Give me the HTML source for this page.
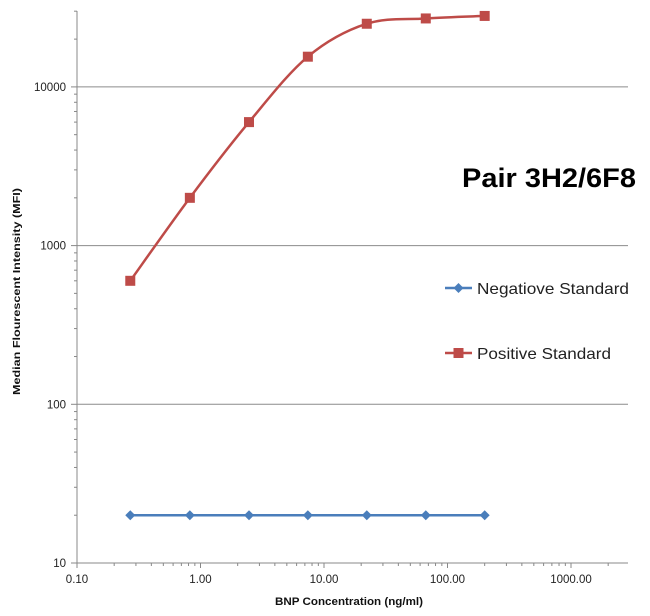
<!DOCTYPE html>
<html><head><meta charset="utf-8"><style>
body{margin:0;background:#fff;}
svg text{font-family:"Liberation Sans",sans-serif;}
</style></head><body>
<svg id="chart" width="650" height="611" xmlns="http://www.w3.org/2000/svg">
<g id="grid"></g>
<g id="axes"></g>
<g id="series"></g>
<text x="462" y="187" font-size="27" font-weight="bold" fill="#000" textLength="174" lengthAdjust="spacingAndGlyphs">Pair 3H2/6F8</text>
<g>
<line x1="445" y1="288" x2="472" y2="288" stroke="#4a7ebb" stroke-width="2.5"/>
<path d="M458.5 283 L463.5 288 L458.5 293 L453.5 288Z" fill="#4a7ebb"/>
<text x="477" y="294" font-size="16" fill="#222" textLength="152" lengthAdjust="spacingAndGlyphs">Negatiove Standard</text>
</g>
<g>
<line x1="445" y1="353" x2="472" y2="353" stroke="#be4b48" stroke-width="2.5"/>
<rect x="453.5" y="348" width="10" height="10" fill="#be4b48"/>
<text x="477" y="359" font-size="16" fill="#222" textLength="134" lengthAdjust="spacingAndGlyphs">Positive Standard</text>
</g>
<text x="275" y="605" font-size="11" font-weight="bold" fill="#111" textLength="148" lengthAdjust="spacingAndGlyphs">BNP Concentration (ng/ml)</text>
<text transform="translate(20,0) rotate(-90)" x="-395" font-size="10.5" font-weight="bold" fill="#111" textLength="207" lengthAdjust="spacingAndGlyphs">Median Flourescent Intensity (MFI)</text>
</svg>
<script>
const xCats=[0.27,0.82,2.47,7.4,22.2,66.7,200];
const negValues=[20,20,20,20,20,20,20];
const posValues=[600,2000,6000,15500,25000,27000,28000];
const xTickLabels=["0.10","1.00","10.00","100.00","1000.00"];
const yTickLabels=["10","100","1000","10000"];
const NS="http://www.w3.org/2000/svg";
const X0=77,XDEC=123.5,X1=628,Y0=563,YDEC=158.7,YTOP=11;
const xs=v=>X0+(Math.log10(v)+1)*XDEC;
const ys=v=>Y0-(Math.log10(v)-1)*YDEC;
function mk(parent,tag,attrs){const e=document.createElementNS(NS,tag);for(const k in attrs)e.setAttribute(k,attrs[k]);document.getElementById(parent).appendChild(e);return e;}
yTickLabels.forEach((t,i)=>{const y=ys(+t);
 if(i>0){const g=mk('grid','line',{x1:X0,x2:X1,y1:y,y2:y,stroke:'#8c8c8c','stroke-width':1});
 
 }
 const l=mk('axes','text',{x:X0-11,y:y+4,'text-anchor':'end','font-size':11.5,fill:'#222'});l.textContent=t;
 
 
 mk('axes','line',{x1:X0-6,x2:X0,y1:y,y2:y,stroke:'#888'});
 for(let m=2;m<=9;m++){const yy=ys(+t*m);if(yy<YTOP)break;mk('axes','line',{x1:X0-3,x2:X0,y1:yy,y2:yy,stroke:'#888'});}
});
mk('axes','line',{x1:X0,x2:X0,y1:YTOP,y2:Y0,stroke:'#888'});
mk('axes','line',{x1:X0,x2:X1,y1:Y0,y2:Y0,stroke:'#888'});
xTickLabels.forEach(t=>{const x=xs(+t);
 const l=mk('axes','text',{x:x,y:Y0+20,'text-anchor':'middle','font-size':11.5,fill:'#222'});l.textContent=t;
 
 
 mk('axes','line',{x1:x,x2:x,y1:Y0,y2:Y0+5,stroke:'#888'});
 for(let m=2;m<=9;m++){const xx=xs(+t*m);if(xx>X1)break;mk('axes','line',{x1:xx,x2:xx,y1:Y0,y2:Y0+3,stroke:'#888'});}
});
function smooth(pts){let d='M'+pts[0][0]+' '+pts[0][1];
 for(let i=0;i<pts.length-1;i++){const p0=pts[i-1]||pts[i],p1=pts[i],p2=pts[i+1],p3=pts[i+2]||p2;
 const c1=[p1[0]+(p2[0]-p0[0])/6,p1[1]+(p2[1]-p0[1])/6],c2=[p2[0]-(p3[0]-p1[0])/6,p2[1]-(p3[1]-p1[1])/6];
 d+=` C${c1[0]} ${c1[1]} ${c2[0]} ${c2[1]} ${p2[0]} ${p2[1]}`;}return d;}
const negPts=xCats.map((c,i)=>[xs(c),ys(negValues[i])]);
const posPts=xCats.map((c,i)=>[xs(c),ys(posValues[i])]);
const nl=mk('series','path',{d:smooth(negPts),fill:'none',stroke:'#4a7ebb','stroke-width':2.5});


const pl=mk('series','path',{d:smooth(posPts),fill:'none',stroke:'#be4b48','stroke-width':2.5});


negPts.forEach(p=>{const e=mk('series','path',{d:`M${p[0]} ${p[1]-5}L${p[0]+5} ${p[1]}L${p[0]} ${p[1]+5}L${p[0]-5} ${p[1]}Z`,fill:'#4a7ebb'});
 
 });
posPts.forEach(p=>{const e=mk('series','rect',{x:p[0]-5,y:p[1]-5,width:10,height:10,fill:'#be4b48'});
 
 });
</script>
</body></html>
